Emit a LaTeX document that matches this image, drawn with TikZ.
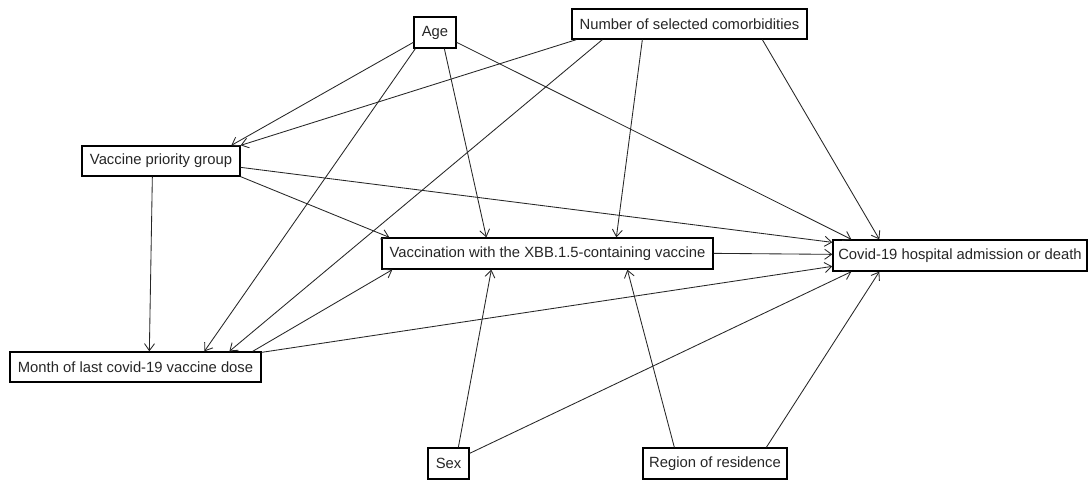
\documentclass[tikz,border=0pt]{standalone}
\usepackage{fontspec}
\setmainfont{Liberation Sans}
\usetikzlibrary{arrows.meta,calc}
\begin{document}
\begin{tikzpicture}[x=1pt,y=-1pt,
  box/.style={draw=black, line width=1.3pt, fill=white, inner sep=0pt, align=center,
    font=\fontsize{14.8}{17}\selectfont, text=black!85},
  conn/.style={draw=black!85, line width=0.85pt, -{Straight Barb[length=7pt,width=10pt,line width=0.85pt]}}]
\useasboundingbox (0,0) rectangle (1088,480);
\fill[white] (0,0) rectangle (1088,480);
% nodes
\node[box, minimum width=42pt, minimum height=31pt] (age) at (435,32.5) {Age};
\node[box, minimum width=235pt, minimum height=30pt] (num) at (689.5,24) {Number of selected comorbidities};
\node[box, minimum width=158pt, minimum height=30pt] (vpg) at (161,161) {Vaccine priority group};
\node[box, minimum width=331pt, minimum height=31pt] (vacc) at (547.5,253.5) {Vaccination with the XBB.1.5-containing vaccine};
\node[box, minimum width=254pt, minimum height=31pt] (covid) at (960,255.5) {Covid-19 hospital admission or death};
\node[box, minimum width=251pt, minimum height=30pt] (month) at (135.5,367) {Month of last covid-19 vaccine dose};
\node[box, minimum width=41pt, minimum height=31pt] (sex) at (448.5,463.5) {Sex};
\node[box, minimum width=144pt, minimum height=31pt] (region) at (715,463.5) {Region of residence};
% connectors
\draw[conn] ($(age.north west)+(0,26)$) -- ($(vpg.north west)+(150,0)$);
\draw[conn] ($(age.south west)+(2,0)$) -- ($(month.north west)+(195,0)$);
\draw[conn] ($(age.south west)+(31,0)$) -- ($(vacc.north west)+(105,0)$);
\draw[conn] ($(age.north east)+(0,26)$) -- ($(covid.north west)+(19,0)$);
\draw[conn] ($(num.south west)+(5,0)$) -- (vpg.north east);
\draw[conn] ($(num.south west)+(31,0)$) -- ($(month.north west)+(220,0)$);
\draw[conn] ($(num.south west)+(71,0)$) -- ($(vacc.north west)+(235,0)$);
\draw[conn] ($(num.south west)+(191,0)$) -- ($(covid.north west)+(47,0)$);
\draw[conn] ($(vpg.south west)+(71,0)$) -- ($(month.north west)+(140,0)$);
\draw[conn] (vpg.south east) -- ($(vacc.north west)+(8,0)$);
\draw[conn] ($(vpg.north east)+(0,22)$) -- ($(covid.north west)+(0,3)$);
\draw[conn] ($(vacc.north east)+(0,16)$) -- ($(covid.north west)+(0,15)$);
\draw[conn] ($(month.north east)+(-9,0)$) -- ($(vacc.south west)+(11,0)$);
\draw[conn] ($(month.north east)+(0,1)$) -- ($(covid.north west)+(0,27)$);
\draw[conn] ($(sex.north west)+(31,0)$) -- ($(vacc.south west)+(110,0)$);
\draw[conn] ($(sex.north east)+(0,6)$) -- ($(covid.south west)+(19,0)$);
\draw[conn] ($(region.north west)+(32,0)$) -- ($(vacc.south west)+(246,0)$);
\draw[conn] ($(region.north west)+(124,0)$) -- ($(covid.south west)+(47,0)$);
\end{tikzpicture}
\end{document}
